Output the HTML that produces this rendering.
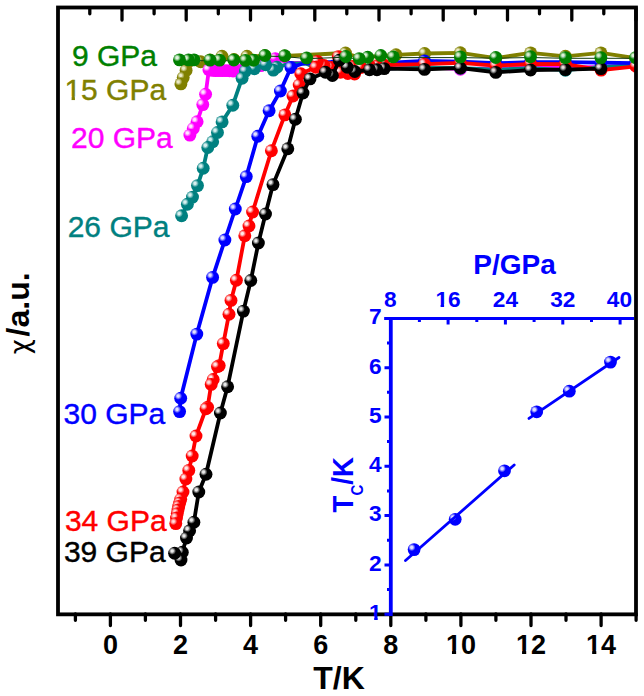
<!DOCTYPE html>
<html><head><meta charset="utf-8"><title>chi vs T</title>
<style>
html,body{margin:0;padding:0;background:#fff;}
body{width:644px;height:696px;overflow:hidden;}
svg{display:block;}
text{font-family:"Liberation Sans",sans-serif;}
.b{font-weight:bold;}
</style></head><body>
<svg width="644" height="696" viewBox="0 0 644 696">
<defs>
<radialGradient id="g_olive" cx="0.315" cy="0.33" r="0.29" fx="0.315" fy="0.33"><stop offset="0" stop-color="#ecebc8"/><stop offset="0.3" stop-color="#ecebc8" stop-opacity="0.9"/><stop offset="1" stop-color="#808000"/></radialGradient>
<radialGradient id="g_magenta" cx="0.315" cy="0.33" r="0.29" fx="0.315" fy="0.33"><stop offset="0" stop-color="#ffe6ff"/><stop offset="0.3" stop-color="#ffe6ff" stop-opacity="0.9"/><stop offset="1" stop-color="#ff00ff"/></radialGradient>
<radialGradient id="g_teal" cx="0.315" cy="0.33" r="0.29" fx="0.315" fy="0.33"><stop offset="0" stop-color="#d4efef"/><stop offset="0.3" stop-color="#d4efef" stop-opacity="0.9"/><stop offset="1" stop-color="#008080"/></radialGradient>
<radialGradient id="g_blue" cx="0.315" cy="0.33" r="0.29" fx="0.315" fy="0.33"><stop offset="0" stop-color="#e0e0ff"/><stop offset="0.3" stop-color="#e0e0ff" stop-opacity="0.9"/><stop offset="1" stop-color="#0000ff"/></radialGradient>
<radialGradient id="g_red" cx="0.315" cy="0.33" r="0.29" fx="0.315" fy="0.33"><stop offset="0" stop-color="#ffe8e8"/><stop offset="0.3" stop-color="#ffe8e8" stop-opacity="0.9"/><stop offset="1" stop-color="#ff0000"/></radialGradient>
<radialGradient id="g_black" cx="0.315" cy="0.33" r="0.29" fx="0.315" fy="0.33"><stop offset="0" stop-color="#e8e8e8"/><stop offset="0.3" stop-color="#e8e8e8" stop-opacity="0.9"/><stop offset="1" stop-color="#000000"/></radialGradient>
<radialGradient id="g_green" cx="0.315" cy="0.33" r="0.29" fx="0.315" fy="0.33"><stop offset="0" stop-color="#dcf2dc"/><stop offset="0.3" stop-color="#dcf2dc" stop-opacity="0.9"/><stop offset="1" stop-color="#008000"/></radialGradient>
<radialGradient id="g_inset" cx="0.315" cy="0.33" r="0.29" fx="0.315" fy="0.33"><stop offset="0" stop-color="#e0e0ff"/><stop offset="0.3" stop-color="#e0e0ff" stop-opacity="0.9"/><stop offset="1" stop-color="#0000ff"/></radialGradient>
<clipPath id="clipmain"><rect x="58" y="7.5" width="578" height="607"/></clipPath>
</defs>
<rect width="644" height="696" fill="#fff"/>
<g clip-path="url(#clipmain)">
<polyline points="180.9,83.9 183.2,77.6 186.1,70.4 188.0,62.0 200.7,61.7 210.0,60.0 222.0,56.3 234.0,59.5 247.0,56.3 264.9,55.8 284.7,56.0 345.5,53.0 359.2,57.5 367.7,57.0 380.8,56.0 396.0,54.8 424.6,53.5 460.3,52.8 495.8,58.1 530.6,52.9 565.4,56.3 600.9,52.9 635.6,58.2" fill="none" stroke="#808000" stroke-width="3.8" stroke-linejoin="round" stroke-linecap="round"/>
<circle cx="635.6" cy="58.2" r="6.45" fill="url(#g_olive)"/>
<circle cx="600.9" cy="52.9" r="6.45" fill="url(#g_olive)"/>
<circle cx="565.4" cy="56.3" r="6.45" fill="url(#g_olive)"/>
<circle cx="530.6" cy="52.9" r="6.45" fill="url(#g_olive)"/>
<circle cx="495.8" cy="58.1" r="6.45" fill="url(#g_olive)"/>
<circle cx="460.3" cy="52.8" r="6.45" fill="url(#g_olive)"/>
<circle cx="424.6" cy="53.5" r="6.45" fill="url(#g_olive)"/>
<circle cx="396.0" cy="54.8" r="6.45" fill="url(#g_olive)"/>
<circle cx="345.5" cy="53.0" r="6.45" fill="url(#g_olive)"/>
<circle cx="284.7" cy="56.0" r="6.45" fill="url(#g_olive)"/>
<circle cx="264.9" cy="55.8" r="6.45" fill="url(#g_olive)"/>
<circle cx="247.0" cy="56.3" r="6.45" fill="url(#g_olive)"/>
<circle cx="234.0" cy="59.5" r="6.45" fill="url(#g_olive)"/>
<circle cx="222.0" cy="56.3" r="6.45" fill="url(#g_olive)"/>
<circle cx="210.0" cy="60.0" r="6.45" fill="url(#g_olive)"/>
<circle cx="200.7" cy="61.7" r="6.45" fill="url(#g_olive)"/>
<circle cx="188.0" cy="62.0" r="6.45" fill="url(#g_olive)"/>
<circle cx="186.1" cy="70.4" r="6.45" fill="url(#g_olive)"/>
<circle cx="183.2" cy="77.6" r="6.45" fill="url(#g_olive)"/>
<circle cx="180.9" cy="83.9" r="6.45" fill="url(#g_olive)"/>
<polyline points="189.9,135.1 193.3,128.5 197.1,121.8 202.8,104.6 205.6,94.2 208.9,69.8 212.1,70.4 215.6,70.6 219.1,70.6 222.6,70.6 226.1,70.6 229.6,70.8 233.1,71.0 236.6,71.0 240.1,70.6 242.1,69.8 260.9,65.6 275.3,58.6 290.0,63.0 306.0,63.0 325.4,72.0 332.4,75.0 339.3,61.0 347.3,67.2 354.8,71.5 369.6,69.8 384.2,68.6 424.5,67.2 460.4,69.2 495.8,68.2 530.6,67.2 565.4,67.2 600.9,67.2 635.6,65.2" fill="none" stroke="#ff00ff" stroke-width="3.8" stroke-linejoin="round" stroke-linecap="round"/>
<circle cx="635.6" cy="65.2" r="6.45" fill="url(#g_magenta)"/>
<circle cx="600.9" cy="67.2" r="6.45" fill="url(#g_magenta)"/>
<circle cx="565.4" cy="67.2" r="6.45" fill="url(#g_magenta)"/>
<circle cx="530.6" cy="67.2" r="6.45" fill="url(#g_magenta)"/>
<circle cx="495.8" cy="68.2" r="6.45" fill="url(#g_magenta)"/>
<circle cx="460.4" cy="69.2" r="6.45" fill="url(#g_magenta)"/>
<circle cx="424.5" cy="67.2" r="6.45" fill="url(#g_magenta)"/>
<circle cx="275.3" cy="58.6" r="6.45" fill="url(#g_magenta)"/>
<circle cx="260.9" cy="65.6" r="6.45" fill="url(#g_magenta)"/>
<circle cx="242.1" cy="69.8" r="6.45" fill="url(#g_magenta)"/>
<circle cx="240.1" cy="70.6" r="6.45" fill="url(#g_magenta)"/>
<circle cx="236.6" cy="71.0" r="6.45" fill="url(#g_magenta)"/>
<circle cx="233.1" cy="71.0" r="6.45" fill="url(#g_magenta)"/>
<circle cx="229.6" cy="70.8" r="6.45" fill="url(#g_magenta)"/>
<circle cx="226.1" cy="70.6" r="6.45" fill="url(#g_magenta)"/>
<circle cx="222.6" cy="70.6" r="6.45" fill="url(#g_magenta)"/>
<circle cx="219.1" cy="70.6" r="6.45" fill="url(#g_magenta)"/>
<circle cx="215.6" cy="70.6" r="6.45" fill="url(#g_magenta)"/>
<circle cx="212.1" cy="70.4" r="6.45" fill="url(#g_magenta)"/>
<circle cx="208.9" cy="69.8" r="6.45" fill="url(#g_magenta)"/>
<circle cx="205.6" cy="94.2" r="6.45" fill="url(#g_magenta)"/>
<circle cx="202.8" cy="104.6" r="6.45" fill="url(#g_magenta)"/>
<circle cx="197.1" cy="121.8" r="6.45" fill="url(#g_magenta)"/>
<circle cx="193.3" cy="128.5" r="6.45" fill="url(#g_magenta)"/>
<circle cx="189.9" cy="135.1" r="6.45" fill="url(#g_magenta)"/>
<polyline points="181.6,215.8 187.4,204.3 192.5,197.1 197.5,185.6 203.2,168.3 207.8,147.5 212.7,141.7 217.5,132.5 222.1,121.9 232.8,105.2 242.1,78.2 245.4,71.1 254.4,68.7 265.7,64.8 273.3,70.1 276.9,67.2 290.0,63.5 306.0,63.5 325.4,72.0 332.4,75.0 339.3,61.0 347.3,67.2 354.8,71.5 369.6,69.8 384.2,68.6 424.5,67.7 460.4,68.2 495.8,69.7 530.6,68.2 565.4,70.2 600.9,67.2 635.6,65.2" fill="none" stroke="#008080" stroke-width="3.8" stroke-linejoin="round" stroke-linecap="round"/>
<circle cx="635.6" cy="65.2" r="6.45" fill="url(#g_teal)"/>
<circle cx="600.9" cy="67.2" r="6.45" fill="url(#g_teal)"/>
<circle cx="565.4" cy="70.2" r="6.45" fill="url(#g_teal)"/>
<circle cx="530.6" cy="68.2" r="6.45" fill="url(#g_teal)"/>
<circle cx="495.8" cy="69.7" r="6.45" fill="url(#g_teal)"/>
<circle cx="460.4" cy="68.2" r="6.45" fill="url(#g_teal)"/>
<circle cx="424.5" cy="67.7" r="6.45" fill="url(#g_teal)"/>
<circle cx="276.9" cy="67.2" r="6.45" fill="url(#g_teal)"/>
<circle cx="273.3" cy="70.1" r="6.45" fill="url(#g_teal)"/>
<circle cx="265.7" cy="64.8" r="6.45" fill="url(#g_teal)"/>
<circle cx="254.4" cy="68.7" r="6.45" fill="url(#g_teal)"/>
<circle cx="245.4" cy="71.1" r="6.45" fill="url(#g_teal)"/>
<circle cx="242.1" cy="78.2" r="6.45" fill="url(#g_teal)"/>
<circle cx="232.8" cy="105.2" r="6.45" fill="url(#g_teal)"/>
<circle cx="222.1" cy="121.9" r="6.45" fill="url(#g_teal)"/>
<circle cx="217.5" cy="132.5" r="6.45" fill="url(#g_teal)"/>
<circle cx="212.7" cy="141.7" r="6.45" fill="url(#g_teal)"/>
<circle cx="207.8" cy="147.5" r="6.45" fill="url(#g_teal)"/>
<circle cx="203.2" cy="168.3" r="6.45" fill="url(#g_teal)"/>
<circle cx="197.5" cy="185.6" r="6.45" fill="url(#g_teal)"/>
<circle cx="192.5" cy="197.1" r="6.45" fill="url(#g_teal)"/>
<circle cx="187.4" cy="204.3" r="6.45" fill="url(#g_teal)"/>
<circle cx="181.6" cy="215.8" r="6.45" fill="url(#g_teal)"/>
<polyline points="179.6,411.6 180.7,398.2 196.8,334.1 212.6,277.4 224.9,240.0 235.3,209.0 246.3,176.6 257.8,136.3 269.1,110.7 280.4,91.0 291.0,67.5 303.0,63.5 318.0,62.5 331.0,62.0 339.3,61.0 347.3,67.2 354.8,71.5 369.6,69.8 384.2,68.6 396.0,62.5 424.5,61.0 460.4,61.7 495.8,63.2 530.6,62.2 565.4,62.2 600.9,62.7 635.6,63.2" fill="none" stroke="#0000ff" stroke-width="3.8" stroke-linejoin="round" stroke-linecap="round"/>
<circle cx="635.6" cy="63.2" r="6.45" fill="url(#g_blue)"/>
<circle cx="600.9" cy="62.7" r="6.45" fill="url(#g_blue)"/>
<circle cx="565.4" cy="62.2" r="6.45" fill="url(#g_blue)"/>
<circle cx="530.6" cy="62.2" r="6.45" fill="url(#g_blue)"/>
<circle cx="495.8" cy="63.2" r="6.45" fill="url(#g_blue)"/>
<circle cx="460.4" cy="61.7" r="6.45" fill="url(#g_blue)"/>
<circle cx="424.5" cy="61.0" r="6.45" fill="url(#g_blue)"/>
<circle cx="291.0" cy="67.5" r="6.45" fill="url(#g_blue)"/>
<circle cx="280.4" cy="91.0" r="6.45" fill="url(#g_blue)"/>
<circle cx="269.1" cy="110.7" r="6.45" fill="url(#g_blue)"/>
<circle cx="257.8" cy="136.3" r="6.45" fill="url(#g_blue)"/>
<circle cx="246.3" cy="176.6" r="6.45" fill="url(#g_blue)"/>
<circle cx="235.3" cy="209.0" r="6.45" fill="url(#g_blue)"/>
<circle cx="224.9" cy="240.0" r="6.45" fill="url(#g_blue)"/>
<circle cx="212.6" cy="277.4" r="6.45" fill="url(#g_blue)"/>
<circle cx="196.8" cy="334.1" r="6.45" fill="url(#g_blue)"/>
<circle cx="180.7" cy="398.2" r="6.45" fill="url(#g_blue)"/>
<circle cx="179.6" cy="411.6" r="6.45" fill="url(#g_blue)"/>
<polyline points="175.8,523.6 176.5,518.0 177.3,513.6 178.0,510.0 178.7,506.4 179.7,503.0 180.7,499.2 183.0,492.0 185.9,479.0 188.8,470.4 192.2,456.0 196.0,436.0 206.0,408.7 207.6,407.2 211.2,384.4 213.2,379.5 217.5,366.6 219.2,365.6 223.3,343.6 229.0,314.2 231.0,300.4 236.4,280.3 244.8,235.8 249.0,226.0 252.6,212.0 271.4,150.7 284.9,114.9 293.0,96.0 299.2,85.0 300.8,73.8 315.8,67.2 317.4,61.4 324.0,65.5 331.0,67.5 338.3,56.6 340.5,72.3 347.8,73.5 354.6,74.0 361.0,67.5 353.0,66.5 346.0,63.5 353.0,66.5 361.0,67.5 369.5,65.8 377.0,65.8 384.0,65.0 424.5,64.1 460.4,62.8 495.8,65.7 530.6,63.8 565.4,64.1 601.1,70.1 636.0,66.3" fill="none" stroke="#ff0000" stroke-width="3.8" stroke-linejoin="round" stroke-linecap="round"/>
<circle cx="636.0" cy="66.3" r="6.45" fill="url(#g_red)"/>
<circle cx="601.1" cy="70.1" r="6.45" fill="url(#g_red)"/>
<circle cx="565.4" cy="64.1" r="6.45" fill="url(#g_red)"/>
<circle cx="530.6" cy="63.8" r="6.45" fill="url(#g_red)"/>
<circle cx="495.8" cy="65.7" r="6.45" fill="url(#g_red)"/>
<circle cx="460.4" cy="62.8" r="6.45" fill="url(#g_red)"/>
<circle cx="424.5" cy="64.1" r="6.45" fill="url(#g_red)"/>
<circle cx="384.0" cy="65.0" r="6.45" fill="url(#g_red)"/>
<circle cx="377.0" cy="65.8" r="6.45" fill="url(#g_red)"/>
<circle cx="369.5" cy="65.8" r="6.45" fill="url(#g_red)"/>
<circle cx="346.0" cy="63.5" r="6.45" fill="url(#g_red)"/>
<circle cx="353.0" cy="66.5" r="6.45" fill="url(#g_red)"/>
<circle cx="361.0" cy="67.5" r="6.45" fill="url(#g_red)"/>
<circle cx="354.6" cy="74.0" r="6.45" fill="url(#g_red)"/>
<circle cx="347.8" cy="73.5" r="6.45" fill="url(#g_red)"/>
<circle cx="340.5" cy="72.3" r="6.45" fill="url(#g_red)"/>
<circle cx="338.3" cy="56.6" r="6.45" fill="url(#g_red)"/>
<circle cx="331.0" cy="67.5" r="6.45" fill="url(#g_red)"/>
<circle cx="324.0" cy="65.5" r="6.45" fill="url(#g_red)"/>
<circle cx="317.4" cy="61.4" r="6.45" fill="url(#g_red)"/>
<circle cx="315.8" cy="67.2" r="6.45" fill="url(#g_red)"/>
<circle cx="300.8" cy="73.8" r="6.45" fill="url(#g_red)"/>
<circle cx="299.2" cy="85.0" r="6.45" fill="url(#g_red)"/>
<circle cx="293.0" cy="96.0" r="6.45" fill="url(#g_red)"/>
<circle cx="284.9" cy="114.9" r="6.45" fill="url(#g_red)"/>
<circle cx="271.4" cy="150.7" r="6.45" fill="url(#g_red)"/>
<circle cx="252.6" cy="212.0" r="6.45" fill="url(#g_red)"/>
<circle cx="249.0" cy="226.0" r="6.45" fill="url(#g_red)"/>
<circle cx="244.8" cy="235.8" r="6.45" fill="url(#g_red)"/>
<circle cx="236.4" cy="280.3" r="6.45" fill="url(#g_red)"/>
<circle cx="231.0" cy="300.4" r="6.45" fill="url(#g_red)"/>
<circle cx="229.0" cy="314.2" r="6.45" fill="url(#g_red)"/>
<circle cx="223.3" cy="343.6" r="6.45" fill="url(#g_red)"/>
<circle cx="219.2" cy="365.6" r="6.45" fill="url(#g_red)"/>
<circle cx="217.5" cy="366.6" r="6.45" fill="url(#g_red)"/>
<circle cx="213.2" cy="379.5" r="6.45" fill="url(#g_red)"/>
<circle cx="211.2" cy="384.4" r="6.45" fill="url(#g_red)"/>
<circle cx="207.6" cy="407.2" r="6.45" fill="url(#g_red)"/>
<circle cx="206.0" cy="408.7" r="6.45" fill="url(#g_red)"/>
<circle cx="196.0" cy="436.0" r="6.45" fill="url(#g_red)"/>
<circle cx="192.2" cy="456.0" r="6.45" fill="url(#g_red)"/>
<circle cx="188.8" cy="470.4" r="6.45" fill="url(#g_red)"/>
<circle cx="185.9" cy="479.0" r="6.45" fill="url(#g_red)"/>
<circle cx="183.0" cy="492.0" r="6.45" fill="url(#g_red)"/>
<circle cx="180.7" cy="499.2" r="6.45" fill="url(#g_red)"/>
<circle cx="179.7" cy="503.0" r="6.45" fill="url(#g_red)"/>
<circle cx="178.7" cy="506.4" r="6.45" fill="url(#g_red)"/>
<circle cx="178.0" cy="510.0" r="6.45" fill="url(#g_red)"/>
<circle cx="177.3" cy="513.6" r="6.45" fill="url(#g_red)"/>
<circle cx="176.5" cy="518.0" r="6.45" fill="url(#g_red)"/>
<circle cx="175.8" cy="523.6" r="6.45" fill="url(#g_red)"/>
<polyline points="174.6,553.2 181.0,560.0 182.3,552.3 186.5,538.0 189.6,530.8 193.9,522.2 198.8,492.0 206.0,474.2 220.4,413.0 227.6,386.7 243.4,311.1 250.8,280.5 258.4,243.0 265.5,214.0 273.0,184.6 287.8,148.7 295.4,119.3 303.0,93.0 310.0,78.9 325.4,72.2 332.4,75.5 339.3,60.3 347.3,67.2 354.8,71.5 369.6,69.8 376.9,69.8 384.2,68.6 424.5,69.4 460.4,68.0 495.8,72.4 530.6,70.0 565.4,69.6 600.9,68.6" fill="none" stroke="#000000" stroke-width="3.8" stroke-linejoin="round" stroke-linecap="round"/>
<circle cx="600.9" cy="68.6" r="6.45" fill="url(#g_black)"/>
<circle cx="565.4" cy="69.6" r="6.45" fill="url(#g_black)"/>
<circle cx="530.6" cy="70.0" r="6.45" fill="url(#g_black)"/>
<circle cx="495.8" cy="72.4" r="6.45" fill="url(#g_black)"/>
<circle cx="460.4" cy="68.0" r="6.45" fill="url(#g_black)"/>
<circle cx="424.5" cy="69.4" r="6.45" fill="url(#g_black)"/>
<circle cx="384.2" cy="68.6" r="6.45" fill="url(#g_black)"/>
<circle cx="376.9" cy="69.8" r="6.45" fill="url(#g_black)"/>
<circle cx="369.6" cy="69.8" r="6.45" fill="url(#g_black)"/>
<circle cx="354.8" cy="71.5" r="6.45" fill="url(#g_black)"/>
<circle cx="347.3" cy="67.2" r="6.45" fill="url(#g_black)"/>
<circle cx="339.3" cy="60.3" r="6.45" fill="url(#g_black)"/>
<circle cx="332.4" cy="75.5" r="6.45" fill="url(#g_black)"/>
<circle cx="325.4" cy="72.2" r="6.45" fill="url(#g_black)"/>
<circle cx="310.0" cy="78.9" r="6.45" fill="url(#g_black)"/>
<circle cx="303.0" cy="93.0" r="6.45" fill="url(#g_black)"/>
<circle cx="295.4" cy="119.3" r="6.45" fill="url(#g_black)"/>
<circle cx="287.8" cy="148.7" r="6.45" fill="url(#g_black)"/>
<circle cx="273.0" cy="184.6" r="6.45" fill="url(#g_black)"/>
<circle cx="265.5" cy="214.0" r="6.45" fill="url(#g_black)"/>
<circle cx="258.4" cy="243.0" r="6.45" fill="url(#g_black)"/>
<circle cx="250.8" cy="280.5" r="6.45" fill="url(#g_black)"/>
<circle cx="243.4" cy="311.1" r="6.45" fill="url(#g_black)"/>
<circle cx="227.6" cy="386.7" r="6.45" fill="url(#g_black)"/>
<circle cx="220.4" cy="413.0" r="6.45" fill="url(#g_black)"/>
<circle cx="206.0" cy="474.2" r="6.45" fill="url(#g_black)"/>
<circle cx="198.8" cy="492.0" r="6.45" fill="url(#g_black)"/>
<circle cx="193.9" cy="522.2" r="6.45" fill="url(#g_black)"/>
<circle cx="189.6" cy="530.8" r="6.45" fill="url(#g_black)"/>
<circle cx="186.5" cy="538.0" r="6.45" fill="url(#g_black)"/>
<circle cx="182.3" cy="552.3" r="6.45" fill="url(#g_black)"/>
<circle cx="181.0" cy="560.0" r="6.45" fill="url(#g_black)"/>
<circle cx="174.6" cy="553.2" r="6.45" fill="url(#g_black)"/>
<polyline transform="translate(0,0.7)" points="179.5,59.9 188.5,59.9 194.0,59.9 210.0,60.1 219.5,60.1 233.8,60.0 245.5,60.4 253.6,60.2 264.9,55.5 284.7,55.8 306.6,58.0 345.8,56.5 359.2,58.6 367.7,57.3 380.8,55.5 393.3,56.9 460.4,56.9 495.8,57.5 530.5,56.8 565.4,57.6 600.9,57.6 635.6,57.6" fill="none" stroke="#103810" stroke-width="1.0" stroke-linejoin="round" stroke-linecap="round"/>
<circle cx="635.6" cy="57.6" r="6.45" fill="url(#g_green)"/>
<circle cx="600.9" cy="57.6" r="6.45" fill="url(#g_green)"/>
<circle cx="565.4" cy="57.6" r="6.45" fill="url(#g_green)"/>
<circle cx="530.5" cy="56.8" r="6.45" fill="url(#g_green)"/>
<circle cx="495.8" cy="57.5" r="6.45" fill="url(#g_green)"/>
<circle cx="460.4" cy="56.9" r="6.45" fill="url(#g_green)"/>
<circle cx="393.3" cy="56.9" r="6.45" fill="url(#g_green)"/>
<circle cx="380.8" cy="55.5" r="6.45" fill="url(#g_green)"/>
<circle cx="367.7" cy="57.3" r="6.45" fill="url(#g_green)"/>
<circle cx="359.2" cy="58.6" r="6.45" fill="url(#g_green)"/>
<circle cx="345.8" cy="56.5" r="6.45" fill="url(#g_green)"/>
<circle cx="306.6" cy="58.0" r="6.45" fill="url(#g_green)"/>
<circle cx="284.7" cy="55.8" r="6.45" fill="url(#g_green)"/>
<circle cx="264.9" cy="55.5" r="6.45" fill="url(#g_green)"/>
<circle cx="253.6" cy="60.2" r="6.45" fill="url(#g_green)"/>
<circle cx="245.5" cy="60.4" r="6.45" fill="url(#g_green)"/>
<circle cx="233.8" cy="60.0" r="6.45" fill="url(#g_green)"/>
<circle cx="219.5" cy="60.1" r="6.45" fill="url(#g_green)"/>
<circle cx="210.0" cy="60.1" r="6.45" fill="url(#g_green)"/>
<circle cx="194.0" cy="59.9" r="6.45" fill="url(#g_green)"/>
<circle cx="188.5" cy="59.9" r="6.45" fill="url(#g_green)"/>
<circle cx="179.5" cy="59.9" r="6.45" fill="url(#g_green)"/>
</g>
<rect x="58" y="7.5" width="578" height="606.85" fill="none" stroke="#000" stroke-width="3.8"/>
<path d="M122.0 8V20 M186.2 8V20 M250.5 8V20 M314.8 8V20 M379.0 8V20 M443.2 8V20 M507.5 8V20 M571.8 8V20 M636.0 8V20 M89.8 8V13.8 M154.1 8V13.8 M218.3 8V13.8 M282.6 8V13.8 M346.8 8V13.8 M411.1 8V13.8 M475.3 8V13.8 M539.5 8V13.8 M603.8 8V13.8" stroke="#000" stroke-width="3.3" stroke-linecap="round" fill="none"/>
<path d="M110.4 614V625.5 M180.5 614V625.5 M250.6 614V625.5 M320.7 614V625.5 M390.8 614V625.5 M460.9 614V625.5 M531.0 614V625.5 M601.1 614V625.5 M75.4 614V620.3 M145.4 614V620.3 M215.6 614V620.3 M285.6 614V620.3 M355.8 614V620.3 M425.9 614V620.3 M495.9 614V620.3 M566.0 614V620.3 M636.1 614V620.3" stroke="#000" stroke-width="3.3" stroke-linecap="round" fill="none"/>
<g transform="translate(110.40,653.80) scale(1,1)"><text class="b" x="-7.51" y="0" font-size="27" fill="#000">0</text></g>
<g transform="translate(180.50,653.80) scale(1,1)"><text class="b" x="-7.51" y="0" font-size="27" fill="#000">2</text></g>
<g transform="translate(250.60,653.80) scale(1,1)"><text class="b" x="-7.51" y="0" font-size="27" fill="#000">4</text></g>
<g transform="translate(320.70,653.80) scale(1,1)"><text class="b" x="-7.51" y="0" font-size="27" fill="#000">6</text></g>
<g transform="translate(390.80,653.80) scale(1,1)"><text class="b" x="-7.51" y="0" font-size="27" fill="#000">8</text></g>
<clipPath id="c1_1"><rect x="-17.01" y="-27.00" width="34.02" height="23.49"/><rect x="-8.94" y="-3.78" width="4.18" height="4.32"/><rect x="0.00" y="-3.78" width="15.01" height="6.75"/></clipPath><g transform="translate(460.90,653.80) scale(1,1)" clip-path="url(#c1_1)"><text class="b" x="-15.01" y="0" font-size="27" fill="#000">10</text></g>
<clipPath id="c1_2"><rect x="-17.01" y="-27.00" width="34.02" height="23.49"/><rect x="-8.94" y="-3.78" width="4.18" height="4.32"/><rect x="0.00" y="-3.78" width="15.01" height="6.75"/></clipPath><g transform="translate(531.00,653.80) scale(1,1)" clip-path="url(#c1_2)"><text class="b" x="-15.01" y="0" font-size="27" fill="#000">12</text></g>
<clipPath id="c1_3"><rect x="-17.01" y="-27.00" width="34.02" height="23.49"/><rect x="-8.94" y="-3.78" width="4.18" height="4.32"/><rect x="0.00" y="-3.78" width="15.01" height="6.75"/></clipPath><g transform="translate(601.10,653.80) scale(1,1)" clip-path="url(#c1_3)"><text class="b" x="-15.01" y="0" font-size="27" fill="#000">14</text></g>
<text class="b" x="313.3" y="689" font-size="32">T/K</text>
<text transform="translate(29.2,354.2) rotate(-90)" font-size="26" style="font-family:'DejaVu Sans','Liberation Sans',sans-serif">χ</text>
<text class="b" transform="translate(28.8,336.4) rotate(-90)" font-size="32">/a.u.</text>
<text x="72.0" y="65.8" font-size="30" fill="#008000" stroke="#008000" stroke-width="0.4">9 GPa</text>
<clipPath id="c15"><rect x="61.400000000000006" y="69.5" width="130" height="26.90"/><rect x="71.60" y="96.10" width="3.30" height="4.2"/><rect x="81.08" y="96.10" width="110" height="12"/></clipPath>
<text x="64.4" y="99.5" font-size="30" fill="#808000" stroke="#808000" stroke-width="0.4" clip-path="url(#c15)">15 GPa</text>
<text x="71.0" y="147.8" font-size="30" fill="#ff00ff" stroke="#ff00ff" stroke-width="0.4">20 GPa</text>
<text x="67.7" y="236.6" font-size="30" fill="#008080" stroke="#008080" stroke-width="0.4">26 GPa</text>
<text x="63.5" y="423.8" font-size="30" fill="#0000ff" stroke="#0000ff" stroke-width="0.4">30 GPa</text>
<text x="64.9" y="531.2" font-size="30" fill="#ff0000" stroke="#ff0000" stroke-width="0.4">34 GPa</text>
<text x="63.9" y="562" font-size="30" fill="#000000" stroke="#000000" stroke-width="0.4">39 GPa</text>
<path d="M384.3 318.5H634" stroke="#0000ff" stroke-width="3.2" fill="none"/>
<path d="M390.8 317V616" stroke="#0000ff" stroke-width="3.8" fill="none"/>
<path d="M448.1 318.5V324.5 M505.4 318.5V324.5 M562.8 318.5V324.5 M620.1 318.5V324.5 M419.4 318.5V322 M476.8 318.5V322 M534.1 318.5V322 M591.5 318.5V322 M384.5 318.4H391 M384.5 367.7H391 M384.5 417.0H391 M384.5 466.3H391 M384.5 515.6H391 M384.5 564.9H391 M384.5 614.2H391 M387 343.0H391 M387 392.3H391 M387 441.6H391 M387 490.9H391 M387 540.2H391 M387 589.5H391" stroke="#0000ff" stroke-width="3" stroke-linecap="butt" fill="none"/>
<g transform="translate(390.20,306.90) scale(1,1)"><text class="b" x="-6.31" y="0" font-size="22.7" fill="#0000ff">8</text></g>
<clipPath id="c1_4"><rect x="-14.62" y="-22.70" width="29.24" height="19.75"/><rect x="-7.51" y="-3.18" width="3.52" height="3.63"/><rect x="0.00" y="-3.18" width="12.62" height="5.67"/></clipPath><g transform="translate(448.10,306.90) scale(1,1)" clip-path="url(#c1_4)"><text class="b" x="-12.62" y="0" font-size="22.7" fill="#0000ff">16</text></g>
<g transform="translate(505.45,306.90) scale(1,1)"><text class="b" x="-12.62" y="0" font-size="22.7" fill="#0000ff">24</text></g>
<g transform="translate(562.80,306.90) scale(1,1)"><text class="b" x="-12.62" y="0" font-size="22.7" fill="#0000ff">32</text></g>
<g transform="translate(619.40,306.90) scale(1,1)"><text class="b" x="-12.62" y="0" font-size="22.7" fill="#0000ff">40</text></g>
<g transform="translate(381.70,324.20) scale(1,1)"><text class="b" x="-12.62" y="0" font-size="22.7" fill="#0000ff">7</text></g>
<g transform="translate(381.70,373.50) scale(1,1)"><text class="b" x="-12.62" y="0" font-size="22.7" fill="#0000ff">6</text></g>
<g transform="translate(381.70,422.80) scale(1,1)"><text class="b" x="-12.62" y="0" font-size="22.7" fill="#0000ff">5</text></g>
<g transform="translate(381.70,472.10) scale(1,1)"><text class="b" x="-12.62" y="0" font-size="22.7" fill="#0000ff">4</text></g>
<g transform="translate(381.70,521.40) scale(1,1)"><text class="b" x="-12.62" y="0" font-size="22.7" fill="#0000ff">3</text></g>
<g transform="translate(381.70,570.70) scale(1,1)"><text class="b" x="-12.62" y="0" font-size="22.7" fill="#0000ff">2</text></g>
<clipPath id="c1_5"><rect x="-14.62" y="-22.70" width="16.62" height="19.75"/><rect x="-7.51" y="-3.18" width="3.52" height="3.63"/></clipPath><g transform="translate(381.70,620.00) scale(1,1)" clip-path="url(#c1_5)"><text class="b" x="-12.62" y="0" font-size="22.7" fill="#0000ff">1</text></g>
<text class="b" x="473.3" y="274.3" font-size="28" fill="#0000ff">P/GPa</text>
<text class="b" transform="translate(352.8,512.4) rotate(-90)" font-size="29.5" fill="#0000ff" textLength="55.4" lengthAdjust="spacingAndGlyphs">T<tspan font-size="16" dy="10.5">C</tspan><tspan dy="-10.5">/K</tspan></text>
<circle cx="414.1" cy="549.6" r="6.4" fill="url(#g_inset)"/>
<circle cx="455.2" cy="519.3" r="6.4" fill="url(#g_inset)"/>
<circle cx="504.5" cy="470.8" r="6.4" fill="url(#g_inset)"/>
<circle cx="536.7" cy="411.8" r="6.4" fill="url(#g_inset)"/>
<circle cx="569.3" cy="391.2" r="6.4" fill="url(#g_inset)"/>
<circle cx="610.5" cy="362.1" r="6.4" fill="url(#g_inset)"/>
<path d="M405.5 560.5L514.2 465M529 418.4L619 357.5" stroke="#0000ff" stroke-width="2.8" stroke-linecap="round" fill="none"/>
</svg></body></html>
